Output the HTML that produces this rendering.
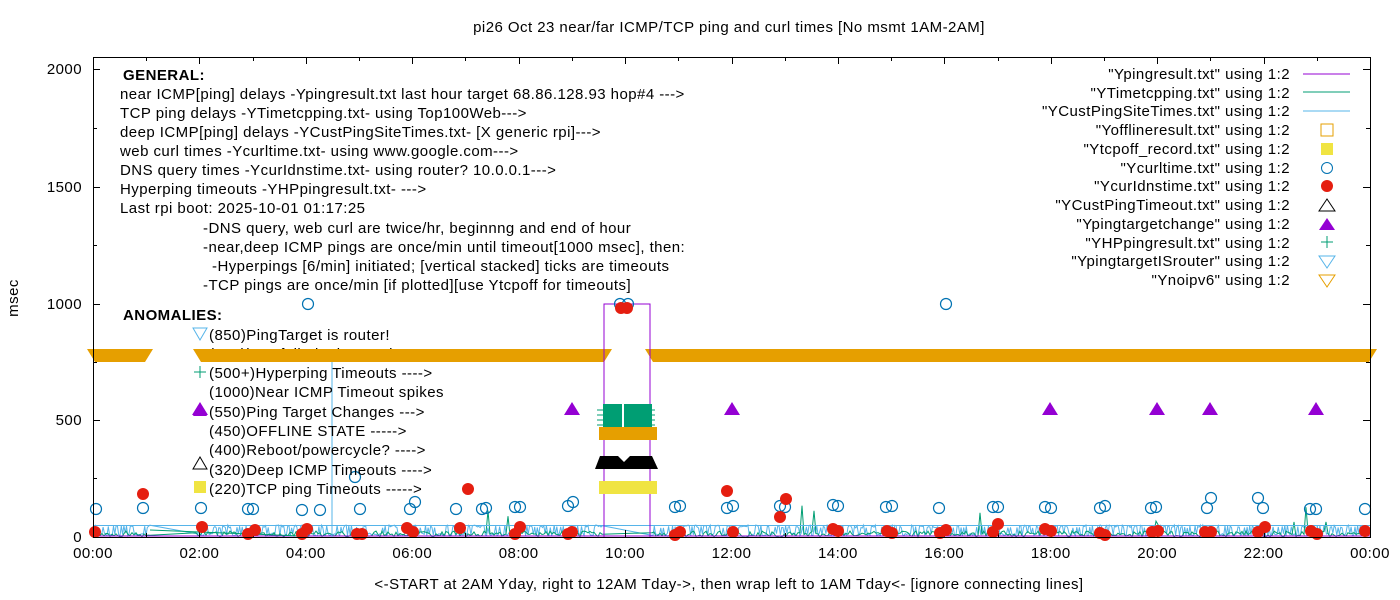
<!DOCTYPE html>
<html><head><meta charset="utf-8"><style>
html,body{margin:0;padding:0;background:#fff}
svg{display:block;font-family:"Liberation Sans",sans-serif;font-size:15px;letter-spacing:0.45px}
</style></head><body>
<svg id="s" width="1400" height="600" viewBox="0 0 1400 600" xmlns="http://www.w3.org/2000/svg">
<rect width="1400" height="600" fill="#fff"/>
<text x="729" y="32" text-anchor="middle">pi26 Oct 23  near/far ICMP/TCP ping and curl times [No msmt 1AM-2AM]</text>
<text x="729" y="589" text-anchor="middle">&lt;-START at 2AM Yday, right to 12AM Tday-&gt;, then wrap left to 1AM Tday&lt;- [ignore connecting lines]</text>
<text transform="translate(18,298) rotate(-90)" text-anchor="middle">msec</text>
<g text-anchor="end">
<text x="82" y="542">0</text><text x="82" y="425">500</text><text x="82" y="309">1000</text><text x="82" y="192">1500</text><text x="82" y="74">2000</text>
</g>
<g text-anchor="middle" id="xl"></g>
<text x="209" y="359">(785)ipv6 failed, ping6 only</text>
<g id="noise"></g>
<g id="ticks" stroke="#000" stroke-width="1"></g>
<g fill="#e69f00">
<polygon points="87,349 153,349 145,362 95,362"/>
<polygon points="193,349 612,349 604,362 201,362"/>
<polygon points="645,349 1377,349 1369,362 653,362"/>
</g>
<polyline points="604,537 604,304 650,304 650,537" fill="none" stroke="#9400d3" stroke-width="1"/>
<rect x="603" y="404" width="49" height="24" fill="#009e73"/>
<g stroke="#009e73" stroke-width="1">
<line x1="597" y1="410" x2="655" y2="410"/><line x1="597" y1="415" x2="655" y2="415"/><line x1="597" y1="420" x2="655" y2="420"/><line x1="597" y1="425" x2="655" y2="425"/>
</g>
<line x1="623" y1="403" x2="623" y2="428" stroke="#fff" stroke-width="2"/>
<rect x="599" y="427" width="58" height="13" fill="#e69f00"/>
<polygon points="600,456 618,456 624,462 630,456 652,456 658,469 595,469" fill="#000"/>
<rect x="599" y="481" width="58" height="13" fill="#f0e442"/>
<g id="pts"></g>
<rect x="93.5" y="57.5" width="1277" height="480" fill="none" stroke="#000"/>
<g>
<text x="123" y="80" font-weight="bold">GENERAL:</text>
<text x="120" y="99">near ICMP[ping] delays -Ypingresult.txt last hour target 68.86.128.93 hop#4 ---&gt;</text>
<text x="120" y="118">TCP ping delays -YTimetcpping.txt- using Top100Web---&gt;</text>
<text x="120" y="137">deep ICMP[ping] delays -YCustPingSiteTimes.txt- [X generic rpi]---&gt;</text>
<text x="120" y="156">web curl times -Ycurltime.txt- using www.google.com---&gt;</text>
<text x="120" y="175">DNS query times -YcurIdnstime.txt- using router? 10.0.0.1---&gt;</text>
<text x="120" y="194">Hyperping timeouts -YHPpingresult.txt- ---&gt;</text>
<text x="120" y="213">Last rpi boot: 2025-10-01 01:17:25</text>
<text x="203" y="233">-DNS query, web curl are twice/hr, beginnng and end of hour</text>
<text x="203" y="252">-near,deep ICMP pings are once/min until timeout[1000 msec], then:</text>
<text x="212" y="271">-Hyperpings [6/min] initiated; [vertical stacked] ticks are timeouts</text>
<text x="203" y="290">-TCP pings are once/min [if plotted][use Ytcpoff for timeouts]</text>
<text x="123" y="320" font-weight="bold">ANOMALIES:</text>
<text x="209" y="340">(850)PingTarget is router!</text>
<text x="209" y="378">(500+)Hyperping Timeouts ----&gt;</text>
<text x="209" y="397">(1000)Near ICMP Timeout spikes</text>
<text x="209" y="417">(550)Ping Target Changes ---&gt;</text>
<text x="209" y="436">(450)OFFLINE STATE -----&gt;</text>
<text x="209" y="455">(400)Reboot/powercycle? ----&gt;</text>
<text x="209" y="475">(320)Deep ICMP Timeouts ----&gt;</text>
<text x="209" y="494">(220)TCP ping Timeouts -----&gt;</text>
</g>
<polygon points="193,328 207,328 200,340" fill="#fff" stroke="#56b4e9"/>
<g stroke="#009e73"><line x1="194" y1="372" x2="206" y2="372"/><line x1="200" y1="366" x2="200" y2="378"/></g>
<polygon points="193,416 207,416 200,403" fill="#9400d3"/>
<polygon points="193,469 207,469 200,457" fill="#fff" stroke="#000"/>
<rect x="194" y="481" width="12" height="12" fill="#f0e442"/>
<g text-anchor="end">
<text x="1290" y="79">"Ypingresult.txt" using 1:2</text>
<text x="1290" y="98">"YTimetcpping.txt" using 1:2</text>
<text x="1290" y="116">"YCustPingSiteTimes.txt" using 1:2</text>
<text x="1290" y="135">"Yofflineresult.txt" using 1:2</text>
<text x="1290" y="154">"Ytcpoff_record.txt" using 1:2</text>
<text x="1290" y="173">"Ycurltime.txt" using 1:2</text>
<text x="1290" y="191">"YcurIdnstime.txt" using 1:2</text>
<text x="1290" y="210">"YCustPingTimeout.txt" using 1:2</text>
<text x="1290" y="229">"Ypingtargetchange" using 1:2</text>
<text x="1290" y="248">"YHPpingresult.txt" using 1:2</text>
<text x="1290" y="266">"YpingtargetISrouter" using 1:2</text>
<text x="1290" y="285">"Ynoipv6" using 1:2</text>
</g>
<line x1="1303" y1="74" x2="1350" y2="74" stroke="#9400d3"/>
<line x1="1303" y1="92" x2="1350" y2="92" stroke="#009e73"/>
<line x1="1303" y1="111" x2="1350" y2="111" stroke="#56b4e9"/>
<rect x="1321" y="124" width="12" height="12" fill="none" stroke="#e69f00"/>
<rect x="1321" y="143" width="12" height="12" fill="#f0e442"/>
<circle cx="1327" cy="168" r="5.5" fill="none" stroke="#0072b2"/>
<circle cx="1327" cy="186" r="6" fill="#e51e10"/>
<polygon points="1319,211 1335,211 1327,199" fill="none" stroke="#000"/>
<polygon points="1319,230 1335,230 1327,218" fill="#9400d3"/>
<g stroke="#009e73"><line x1="1321" y1="242" x2="1333" y2="242"/><line x1="1327" y1="236" x2="1327" y2="248"/></g>
<polygon points="1319,256 1335,256 1327,268" fill="none" stroke="#56b4e9"/>
<polygon points="1319,275 1335,275 1327,287" fill="none" stroke="#e69f00"/>
</svg>
<script>
var NS="http://www.w3.org/2000/svg";
function el(t,a,p){var e=document.createElementNS(NS,t);for(var k in a)e.setAttribute(k,a[k]);document.getElementById(p).appendChild(e);return e;}
var X0=93,W=1277/24;
for(var h=0;h<=24;h+=2){var x=X0+h*W;var t=el('text',{x:x,y:558},'xl');var hh=(h%24);t.textContent=(hh<10?'0':'')+hh+':00';}
for(var h=0;h<=24;h++){var x=Math.round(X0+h*W)+0.5;var L=h%2==0?7:4;el('line',{x1:x,y1:537,x2:x,y2:537-L},'ticks');el('line',{x1:x,y1:57,x2:x,y2:57+L},'ticks');}
[537,420,304,187,69].forEach(function(y){el('line',{x1:93,y1:y+.5,x2:100,y2:y+.5},'ticks');el('line',{x1:1363,y1:y+.5,x2:1370,y2:y+.5},'ticks');});
[478,362,245,128].forEach(function(y){el('line',{x1:93,y1:y+.5,x2:97,y2:y+.5},'ticks');el('line',{x1:1366,y1:y+.5,x2:1370,y2:y+.5},'ticks');});
var seed=7;function r(){seed=(seed*16807)%2147483647;return seed/2147483647;}
function skip(x){return (x>150&&x<196)||(x>603&&x<651);}
var c="";
for(var x=94;x<1369;x+=1.3){ if(skip(x))continue;
 c+=x.toFixed(1)+","+(r()<0.5?525+r()*3:533+r()*3).toFixed(1)+" ";
}
el('polyline',{points:c,fill:'none',stroke:'#56b4e9','stroke-width':1},'noise');
var gp="";
for(var x=94;x<1369;x+=2){ if(skip(x)){continue;}
 var v=531+r()*6; if(r()<0.02)v=505+r()*20; gp+=x+","+v.toFixed(1)+" ";}
el('polyline',{points:gp,fill:'none',stroke:'#009e73','stroke-width':1},'noise');
el('line',{x1:93,y1:525.5,x2:1370,y2:525.5,stroke:'#56b4e9'},'noise');
el('line',{x1:93,y1:536,x2:1370,y2:536,stroke:'#9400d3'},'noise');
el('line',{x1:332,y1:537,x2:332,y2:362,stroke:'#56b4e9'},'noise');
el('line',{x1:150,y1:530,x2:300,y2:536,stroke:'#009e73'},'noise');
var circ=[[96,509],[143,508],[201,508],[248,509],[253,509],[302,510],[308,304],[320,510],[355,477],[360,509],[410,509],[415,502],[456,509],[482,509],[486,508],[515,507],[520,507],[568,506],[573,502],[620,304],[628,304],[675,507],[680,506],[727,508],[733,506],[780,506],[785,507],[833,505],[838,506],[886,507],[892,506],[939,508],[946,304],[993,507],[998,507],[1045,507],[1051,508],[1100,508],[1105,506],[1151,508],[1156,507],[1207,508],[1211,498],[1258,498],[1263,508],[1310,509],[1316,509],[1365,509]];
circ.forEach(function(p){el('circle',{cx:p[0],cy:p[1],r:5.5,fill:'none',stroke:'#0072b2','stroke-width':1.2},'pts');});
var red=[[95,532],[143,494],[202,527],[248,534],[255,530],[302,534],[307,529],[357,534],[362,534],[407,528],[413,532],[460,528],[468,489],[515,534],[520,527],[568,534],[572,532],[621,308],[627,308],[675,535],[680,532],[727,491],[733,532],[780,517],[786,499],[833,529],[838,531],[887,531],[892,533],[940,533],[946,530],[993,532],[998,524],[1045,529],[1051,531],[1100,533],[1105,535],[1152,532],[1158,531],[1205,532],[1211,532],[1258,532],[1265,527],[1311,531],[1317,534],[1365,531]];
red.forEach(function(p){el('circle',{cx:p[0],cy:p[1],r:6,fill:'#e51e10'},'pts');});
[[200,409],[572,409],[732,409],[1050,409],[1157,409],[1210,409],[1316,409]].forEach(function(p){el('polygon',{points:(p[0]-8)+','+(p[1]+6)+' '+(p[0]+8)+','+(p[1]+6)+' '+p[0]+','+(p[1]-7),fill:'#9400d3'},'pts');});
</script>
</body></html>
